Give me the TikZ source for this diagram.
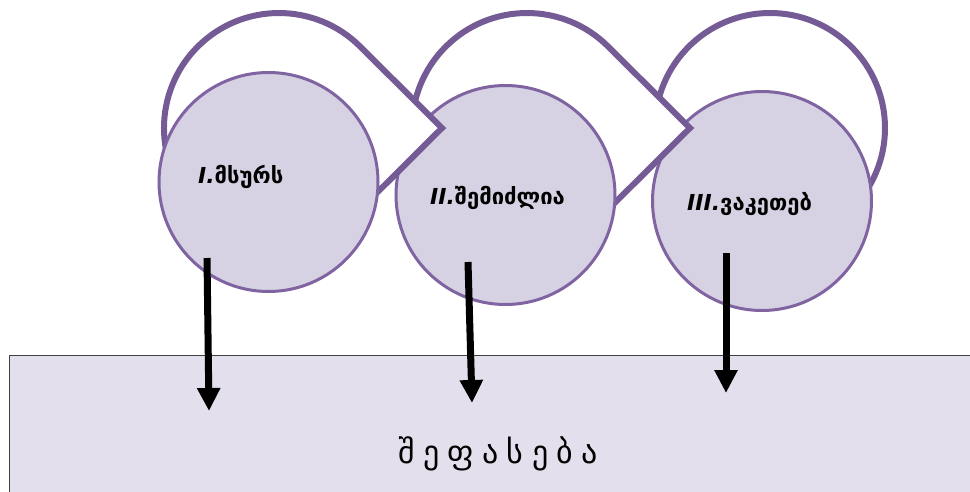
\documentclass[tikz,border=0pt]{standalone}
\usepackage{fontspec}
\setmainfont{DejaVu Sans}
\newfontfamily\geo{DejaVu Sans}
\usetikzlibrary{arrows.meta}
\definecolor{outl}{RGB}{117,91,150}
\definecolor{cfill}{RGB}{215,210,227}
\definecolor{cdraw}{RGB}{128,100,162}
\definecolor{rfill}{RGB}{228,223,236}
\definecolor{rdraw}{RGB}{64,64,64}
\tikzset{
  drop/.style={draw=outl, line width=6pt, fill=white, line join=miter},
  disc/.style={circle, draw=cdraw, fill=cfill, line width=3pt, minimum size=219pt, inner sep=0pt},
  lbl/.style={anchor=base west, inner sep=0pt, font=\geo\fontsize{22}{26}\selectfont\bfseries},
  down/.style={draw=black, line width=7pt, -{Triangle[length=23pt,width=22pt]}},
  base/.style={draw=rdraw, line width=1.2pt, fill=rfill},
}
\begin{document}
\begin{tikzpicture}[x=1pt,y=-1pt]
\useasboundingbox (0,0) rectangle (970,491);
\clip (0,0) rectangle (970,491);
% bottom panel
\node[base, anchor=north west, minimum width=980pt, minimum height=150pt, inner sep=0pt] (panel) at (8.5,354.5) {};
\node[anchor=base, inner sep=0pt, font=\geo\fontsize{32}{36}\selectfont\addfontfeature{LetterSpace=26}] (ev) at (498,463) {შეფასება};
% stage 3
\path[drop] (770,128) circle[radius=115];
\node[disc] (c3) at (762,201) {};
% stage 2
\path[drop] (527+163,128) -- (527+81.3,128-81.3) arc[start angle=-45, end angle=-315, radius=115] -- cycle;
\node[disc] (c2) at (505.5,195) {};
% stage 1
\path[drop] (279+163,128) -- (279+81.3,128-81.3) arc[start angle=-45, end angle=-315, radius=115] -- cycle;
\node[disc] (c1) at (268.5,182) {};
% labels
\node[lbl] (t1) at (198,183) {\textit{I.}მსურს};
\node[lbl] (t2) at (430,204) {\textit{II.}შემიძლია};
\node[lbl] (t3) at (687,210) {\textit{III.}ვაკეთებ};
% arrows
\coordinate (s1) at (207,258);
\coordinate (e1) at (209,411);
\coordinate (s2) at (468,262);
\coordinate (e2) at (472,403);
\coordinate (s3) at (726,253);
\coordinate (e3) at (726,393);
\draw[down] (s1) -- (e1);
\draw[down] (s2) -- (e2);
\draw[down] (s3) -- (e3);
\end{tikzpicture}
\end{document}
